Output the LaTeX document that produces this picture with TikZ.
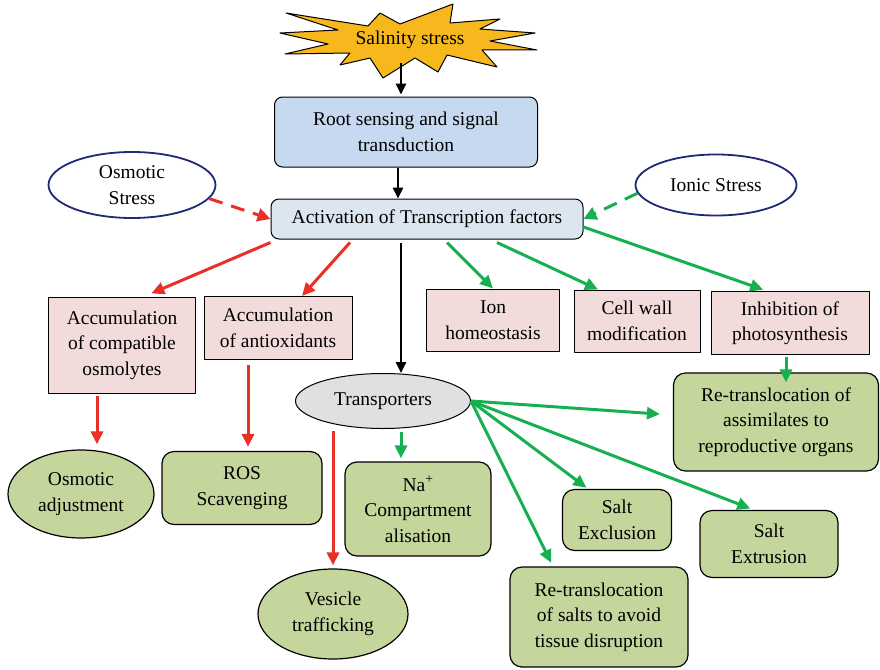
\documentclass[tikz,border=0pt]{standalone}
\usepackage{fontspec}
\setmainfont{Liberation Serif}
\usetikzlibrary{shapes.geometric,arrows.meta}
\definecolor{starfill}{RGB}{247,184,30}
\definecolor{rootfill}{RGB}{198,217,240}
\definecolor{actfill}{RGB}{220,230,241}
\definecolor{pinkfill}{RGB}{242,220,219}
\definecolor{greenfill}{RGB}{196,214,155}
\definecolor{transfill}{RGB}{224,224,224}
\definecolor{navy}{RGB}{32,40,120}
\definecolor{redline}{RGB}{232,48,38}
\definecolor{greenline}{RGB}{22,176,80}
\tikzset{
	starshape/.style={draw, fill=starfill, line width=1pt},
	bluebox/.style={draw, line width=1pt, rounded corners=8pt, align=center, inner sep=0pt},
	pinkbox/.style={draw, fill=pinkfill, line width=1pt, align=center, inner sep=0pt},
	greenbox/.style={draw, fill=greenfill, line width=1.2pt, rounded corners=12pt, align=center, inner sep=0pt},
	greenell/.style={ellipse, draw, fill=greenfill, line width=1.2pt, align=center, inner sep=0pt},
	stressell/.style={ellipse, draw=navy, fill=white, line width=1.8pt, align=center, inner sep=0pt},
	blkarrow/.style={-{Triangle[length=11pt,width=10pt]}, line width=2.5pt, black},
	redarrow/.style={-{Triangle[length=13pt,width=12pt]}, line width=3pt, redline},
	greenarrow/.style={-{Triangle[length=13pt,width=12pt]}, line width=3pt, greenline}
}
\begin{document}
\begin{tikzpicture}[x=1pt, y=-1pt, font=\fontsize{19.5}{25.5}\selectfont, line join=round]
	\useasboundingbox (0,0) rectangle (880,669);
	% salinity star
	\draw[starshape] (286,13) -- (368,26) -- (380,13) -- (400,24) -- (453,4) -- (450,23) -- (500,19)
		-- (480,29) -- (535,33) -- (490,41) -- (537,50) -- (482,50) -- (497,67) -- (447,55) -- (438,72)
		-- (415,58) -- (383,78) -- (370,58) -- (340,65) -- (350,53) -- (285,54) -- (328,44) -- (280,33)
		-- (338,30) -- cycle;
	\node (salt) at (410,40) {Salinity stress};
	\node[bluebox, fill=rootfill, minimum width=263pt, minimum height=70pt] (root) at (406,132) {Root sensing and signal\\transduction};
	\node[bluebox, fill=actfill, minimum width=312pt, minimum height=40pt] (act) at (427,219) {Activation of Transcription factors};
	\node[stressell, minimum width=167pt, minimum height=66pt] (osm) at (132,185) {Osmotic\\Stress};
	\node[stressell, minimum width=161pt, minimum height=61pt] (ionic) at (716,185) {Ionic Stress};
	% responses
	\node[pinkbox, minimum width=147pt, minimum height=96pt] (acc1) at (122,345) {Accumulation\\of compatible\\osmolytes};
	\node[pinkbox, minimum width=148pt, minimum height=63pt] (acc2) at (278,328) {Accumulation\\of antioxidants};
	\node[pinkbox, minimum width=133pt, minimum height=62pt] (ionh) at (493,320) {Ion\\homeostasis};
	\node[pinkbox, minimum width=126pt, minimum height=62pt] (cellw) at (637,321) {Cell wall\\modification};
	\node[pinkbox, minimum width=158pt, minimum height=63pt] (inhib) at (790,323) {Inhibition of\\photosynthesis};
	\node[ellipse, draw, fill=transfill, line width=1pt, minimum width=175pt, minimum height=55pt, inner sep=0pt] (trans) at (383,401) {Transporters};
	% outcomes
	\node[greenell, minimum width=146pt, minimum height=88pt] (osadj) at (81,494) {Osmotic\\adjustment};
	\node[greenbox, minimum width=160pt, minimum height=73pt] (ros) at (242,488) {ROS\\Scavenging};
	\node[greenbox, minimum width=146pt, minimum height=94pt] (nacomp) at (418,509) {Na\textsuperscript{+}\\Compartment\\alisation};
	\node[greenell, minimum width=150pt, minimum height=90pt] (vesicle) at (333,614) {Vesicle\\trafficking};
	\node[greenbox, minimum width=109pt, minimum height=61pt] (saltex) at (617,520) {Salt\\Exclusion};
	\node[greenbox, minimum width=178pt, minimum height=100pt] (retrsalt) at (599,617) {Re-translocation\\of salts to avoid\\tissue disruption};
	\node[greenbox, minimum width=138pt, minimum height=67pt] (saltext) at (769,544) {Salt\\Extrusion};
	\node[greenbox, minimum width=205pt, minimum height=98pt] (retrassim) at (776,422) {Re-translocation of\\assimilates to\\reproductive organs};
	% black arrows
	\draw[blkarrow] ([xshift=-9pt,yshift=-23pt]salt.center) -- ([xshift=-5pt,yshift=2pt]root.north);
	\draw[blkarrow] ([xshift=-8pt]root.south) -- ([xshift=-8pt]root.south |- act.north);
	\draw[blkarrow] ([xshift=-26pt,yshift=-3pt]act.south) -- ([xshift=-26pt]act.south |- trans.north);
	% stress inputs
	\draw[redarrow, -{Triangle[length=13pt,width=13pt]}, dash pattern=on 14pt off 9pt] (osm.-10) -- (act.west);
	\draw[greenarrow, -{Triangle[length=13pt,width=13pt]}, dash pattern=on 14pt off 9pt] (ionic.186) -- (act.east);
	% from the transcription factors
	\draw[redarrow, shorten >=8pt] ([yshift=-3pt]act.south west) -- ([xshift=22pt]acc1.north);
	\draw[redarrow] ([xshift=-77pt,yshift=-3pt]act.south) -- ([xshift=24pt]acc2.north);
	\draw[greenarrow] ([xshift=20pt,yshift=-3pt]act.south) -- (ionh.north);
	\draw[greenarrow] ([xshift=70pt,yshift=-3pt]act.south) -- ([xshift=-39pt]cellw.north);
	\draw[greenarrow, shorten >=4pt] ([yshift=-8pt]act.east) -- ([xshift=-23pt]inhib.north);
	% red branch
	\draw[redarrow, shorten >=5pt] ([xshift=-25pt,yshift=-2pt]acc1.south) -- ([xshift=-25pt]acc1.south |- osadj.north);
	\draw[redarrow, shorten >=4pt] ([xshift=-30pt,yshift=-5pt]acc2.south) -- ([xshift=-30pt]acc2.south |- ros.north);
	\draw[redarrow, shorten >=3pt] ([xshift=-50pt,yshift=-2pt]trans.south) -- (vesicle.north);
	% green branch
	\draw[greenarrow, shorten >=3pt] ([xshift=18pt,yshift=-3pt]trans.south) -- ([xshift=-17pt]nacomp.north);
	\draw[greenarrow, shorten >=13pt] (trans.east) -- ([yshift=7pt]retrassim.west);
	\draw[greenarrow, shorten >=2pt] (trans.east) -- ([xshift=-29pt]saltex.north);
	\draw[greenarrow, shorten >=4pt] (trans.east) -- ([xshift=-15pt]saltext.north);
	\draw[greenarrow, shorten >=4pt] (trans.east) -- ([xshift=-46pt]retrsalt.north);
	\draw[greenarrow, shorten >=-10pt] ([yshift=-2pt]inhib.south -| retrassim.north) ++(10,0) -- ([xshift=10pt]retrassim.north);
\end{tikzpicture}
\end{document}
